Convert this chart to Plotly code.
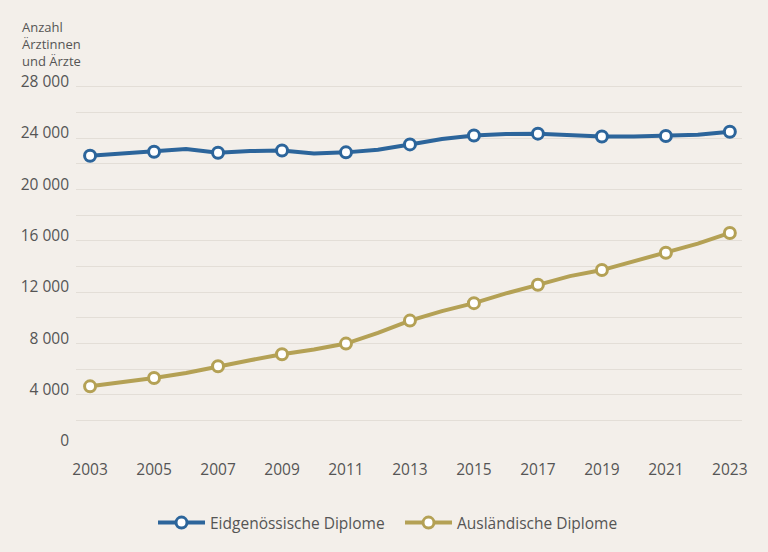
import plotly.graph_objects as go

years = list(range(2003, 2024))
eidg = [22620, 22770, 22930, 23140, 22850, 22980, 23030, 22800, 22880, 23090,
        23500, 23920, 24200, 24310, 24340, 24260, 24120, 24120, 24160, 24260, 24490]
ausl = [4650, 4960, 5300, 5690, 6210, 6680, 7150, 7520, 7980, 8810,
        9770, 10510, 11130, 11890, 12560, 13240, 13710, 14410, 15060, 15770, 16600]
series_names = ["Eidgenössische Diplome", "Ausländische Diplome"]
colors = ["#2c659b", "#b4a155"]
ytick_vals = list(range(0, 30001, 2000))
ytick_text = [f"{v:,}".replace(",", " ") if v % 4000 == 0 and v <= 28000 else "" for v in ytick_vals]
xtick_vals = list(range(2003, 2024, 2))

fig = go.Figure()
for name, vals, col in zip(series_names, [eidg, ausl], colors):
    fig.add_trace(go.Scatter(x=years, y=vals, mode="lines", line=dict(color=col, width=4),
                             showlegend=False, hoverinfo="skip"))
    odd_x = [y for y in years if y % 2 == 1]
    odd_y = [v for y, v in zip(years, vals) if y % 2 == 1]
    fig.add_trace(go.Scatter(x=odd_x, y=odd_y, mode="markers",
                             marker=dict(size=11, color="white", line=dict(color=col, width=3)),
                             showlegend=False))
    fig.add_trace(go.Scatter(x=[None], y=[None], mode="lines+markers", name=name,
                             line=dict(color=col, width=4),
                             marker=dict(size=11, color="white", line=dict(color=col, width=3))))

font_col = "#555555"
fig.update_layout(
    width=768, height=552,
    margin=dict(l=76, r=26, t=61, b=106),
    paper_bgcolor="#f3efea", plot_bgcolor="#f3efea",
    font=dict(family="Open Sans", color=font_col, size=15),
    xaxis=dict(range=[2002.56, 2023.38], tickvals=xtick_vals, showgrid=False, zeroline=False,
               showline=False, ticks="", ticklabelstandoff=12, tickfont=dict(size=15.5, color=font_col)),
    yaxis=dict(range=[0, 30000], tickvals=ytick_vals, ticktext=ytick_text, showgrid=True,
               gridcolor="#e3ded7", gridwidth=1, zeroline=False, showline=False, ticks="",
               ticklabelstandoff=6, ticklabelshift=-5, tickfont=dict(size=15.5, color=font_col)),
    legend=dict(orientation="h", x=0.4865, xanchor="center", y=-0.2, yanchor="middle",
                font=dict(size=15.5, color=font_col), itemwidth=47, entrywidth=185),
    annotations=[dict(text="Anzahl<br>Ärztinnen<br>und Ärzte", xref="paper", yref="paper",
                      x=-0.084, y=1.044, xanchor="left", yanchor="middle", align="left",
                      showarrow=False, font=dict(size=13, color=font_col))],
)
fig.write_html("out.html", config={"displayModeBar": False},
               post_script="document.body.style.margin='0';")
